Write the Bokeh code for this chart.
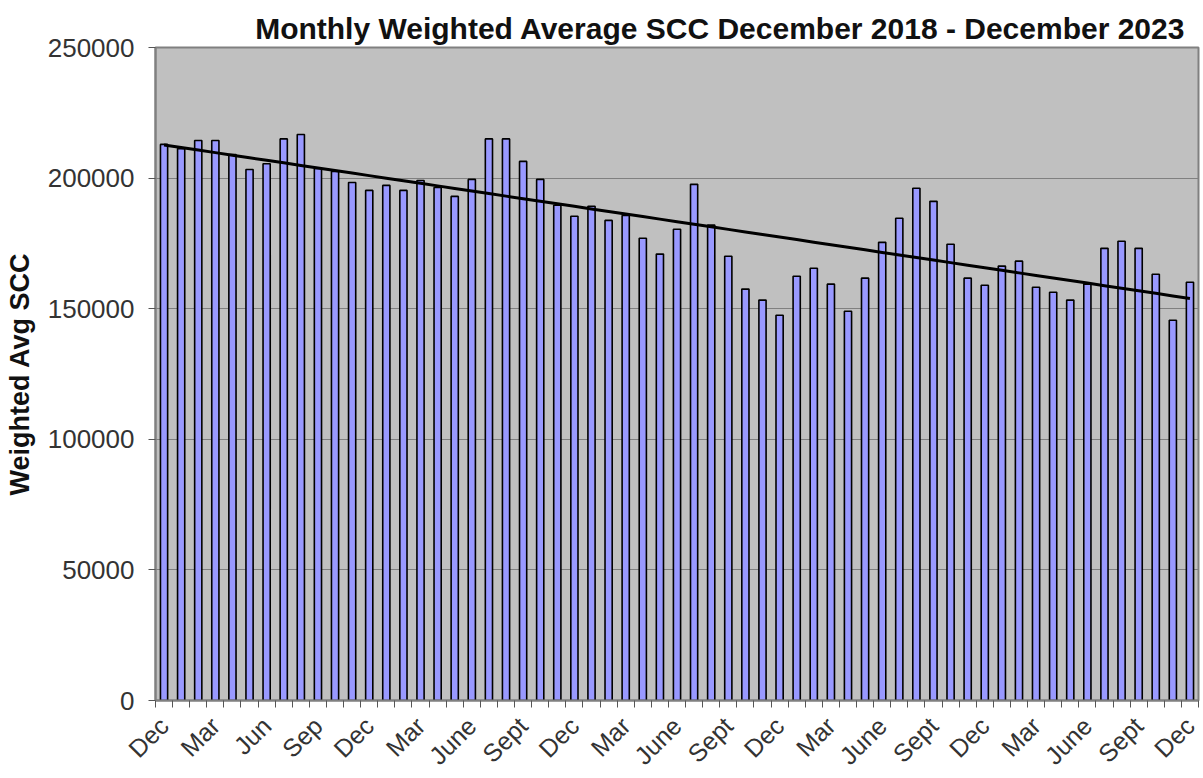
import numpy as np
from bokeh.plotting import figure
from bokeh.models import FixedTicker, NumeralTickFormatter, ColumnDataSource
from bokeh.embed import file_html
from bokeh.resources import INLINE

months = ["Dec", "Jan", "Feb", "Mar", "Apr", "May", "Jun", "Jul", "Aug", "Sep", "Oct", "Nov"]
tick_labels = ["Dec", "Mar", "Jun", "Sep", "Dec", "Mar", "June", "Sept", "Dec", "Mar", "June",
               "Sept", "Dec", "Mar", "June", "Sept", "Dec", "Mar", "June", "Sept", "Dec"]
scc = [212900, 211300, 214400, 214400, 209000, 203300, 205500, 215000, 216700, 203700,
       202500, 198300, 195300, 197200, 195300, 199100, 196400, 193000, 199500, 215000,
       215000, 206400, 199500, 189600, 185400, 189200, 183800, 185700, 177000, 170900,
       180400, 197600, 182000, 170100, 157500, 153300, 147500, 162400, 165500, 159400,
       149000, 161700, 175400, 184600, 196100, 191100, 174700, 161700, 159000, 166300,
       168200, 158200, 156300, 153300, 159400, 173100, 175800, 173100, 163200, 145600,
       160100]

x = np.arange(len(scc))
slope, intercept = np.polyfit(x, np.array(scc, dtype=float), 1)
trend = slope * x + intercept

p = figure(frame_width=1043, frame_height=653, output_backend="svg", toolbar_location=None,
           x_range=(-0.5, len(scc) - 0.5), y_range=(0, 250000),
           min_border_left=155, min_border_right=2, min_border_top=47, min_border_bottom=70,
           title="Monthly Weighted Average SCC December 2018 - December 2023")

p.background_fill_color = "#C0C0C0"
p.border_fill_color = "white"
p.outline_line_color = "#808080"
p.outline_line_width = 2

p.title.text_font = "Liberation Sans"
p.title.text_font_size = "30px"
p.title.text_font_style = "bold"
p.title.text_color = "#111111"
p.title.align = "right"
p.title.offset = 13
p.title.standoff = 6

p.xgrid.grid_line_color = None
p.ygrid.grid_line_color = "#808080"
p.ygrid.grid_line_width = 1.2

src = ColumnDataSource(dict(x=x, top=scc))
p.vbar(x="x", top="top", width=0.42, bottom=0, source=src,
       fill_color="#9999FF", line_color="#000000", line_width=1.6)
p.line(x, trend, line_color="black", line_width=3)

# y axis
p.yaxis.ticker = FixedTicker(ticks=[0, 50000, 100000, 150000, 200000, 250000])
p.yaxis.formatter = NumeralTickFormatter(format="0")
p.yaxis.axis_label = "Weighted Avg SCC"
p.yaxis.axis_label_text_font = "Liberation Sans"
p.yaxis.axis_label_text_font_size = "27px"
p.yaxis.axis_label_text_font_style = "bold"
p.yaxis.axis_label_text_color = "#111111"
p.yaxis.axis_label_standoff = 10
p.yaxis.major_label_text_font = "Liberation Sans"
p.yaxis.major_label_text_font_size = "26px"
p.yaxis.major_label_text_color = "#333333"
p.yaxis.axis_line_color = "#808080"
p.yaxis.axis_line_width = 2
p.yaxis.major_tick_line_color = "#555555"
p.yaxis.major_tick_out = 7
p.yaxis.major_tick_in = 0
p.yaxis.minor_tick_line_color = None
p.yaxis.major_label_standoff = 14

# x axis
label_pos = list(range(0, len(scc), 3))
p.xaxis.ticker = FixedTicker(ticks=label_pos, minor_ticks=[i - 0.5 for i in range(len(scc) + 1)])
p.xaxis.major_label_overrides = {i: lab for i, lab in zip(label_pos, tick_labels)}
p.xaxis.major_label_orientation = np.pi / 4
p.xaxis.major_label_text_font = "Liberation Sans"
p.xaxis.major_label_text_font_size = "25px"
p.xaxis.major_label_text_color = "#333333"
p.xaxis.axis_line_color = "#808080"
p.xaxis.axis_line_width = 2
p.xaxis.major_tick_line_color = None
p.xaxis.major_tick_out = 7
p.xaxis.major_tick_in = 0
p.xaxis.minor_tick_line_color = "#555555"
p.xaxis.minor_tick_out = 7
p.xaxis.minor_tick_in = 0
p.xaxis.major_label_standoff = 14

open("out.html", "w").write(file_html(p, INLINE))
